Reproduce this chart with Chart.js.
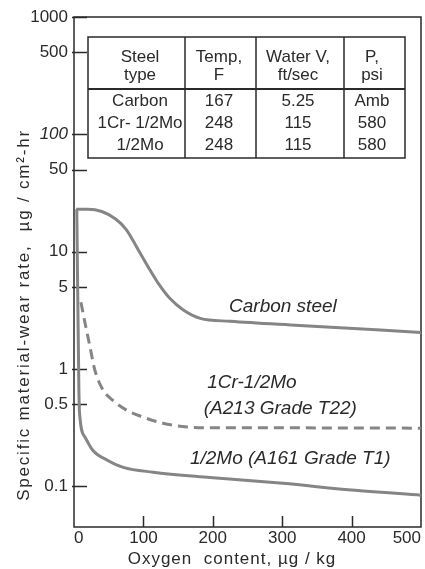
<!DOCTYPE html>
<html lang="en">
<head>
<meta charset="UTF-8">
<title>Specific material-wear rate vs oxygen content</title>
<script src="https://cdn.jsdelivr.net/npm/chart.js"></script>
<style>
  html, body { margin: 0; padding: 0; background: #fff; }
  #chart { display: block; }
</style>
</head>
<body>
<canvas id="chart" width="425" height="569"></canvas>
<script>
// oxygen content, ug/kg  ->  wear rate, ug/cm2-hr
const carbonX = [3, 20, 40, 60, 75, 95, 110, 124, 138, 157, 182, 225, 325, 500];
const carbonY = [23, 23, 22, 19, 15.5, 9.8, 6.9, 5.1, 4.0, 3.2, 2.7, 2.55, 2.35, 2.05];

const crMoX = [10, 16, 23, 30, 42, 56, 76, 99, 128, 163, 196, 300, 500];
const crMoY = [3.7, 2.45, 1.55, 0.98, 0.66, 0.54, 0.445, 0.39, 0.345, 0.32, 0.315, 0.315, 0.313];

const moX = [4, 7, 8, 16, 27, 48, 71, 114, 196, 301, 405, 500];
const moY = [23, 0.7, 0.42, 0.262, 0.203, 0.167, 0.145, 0.132, 0.119, 0.106, 0.0925, 0.084];

const xTicks = [0, 100, 200, 300, 400, 500];
const yTicks = [0.1, 0.5, 1, 5, 10, 50, 100, 500, 1000];

const tableHead = [["Steel", "type"], ["Temp,", "F"], ["Water V,", "ft/sec"], ["P,", "psi"]];
const tableRows = [
    ["Carbon", "167", "5.25", "Amb"],
    ["1Cr- 1/2Mo", "248", "115", "580"],
    ["1/2Mo", "248", "115", "580"]
];

const xTitle = "Oxygen  content, \u00b5g / kg";
const yTitle = "Specific material-wear rate,  \u00b5g / cm\u00b2-hr";

// curve captions, anchored in data space
const captions = [
    { text: "Carbon steel", x: 301, y: 3.4, align: "center" },
    { text: "1Cr-1/2Mo", x: 192, y: 0.77, align: "left" },
    { text: "(A213 Grade T22)", x: 187, y: 0.455, align: "left" },
    { text: "1/2Mo (A161 Grade T1)", x: 167, y: 0.173, align: "left" }
];

const ink = "#2a2a2a";
const curve = "#858585";
const family = "'Liberation Sans', Arial, sans-serif";

const pts = (xs, ys) => xs.map((x, i) => ({ x, y: ys[i] }));

const overlay = {
    id: "overlay",
    beforeDatasetsDraw(chart) {
        const { ctx, chartArea: a, scales: { x, y } } = chart;
        ctx.save();
        ctx.strokeStyle = ink;
        ctx.lineWidth = 1.5;
        ctx.strokeRect(a.left, a.top, a.right - a.left, a.bottom - a.top);
        ctx.beginPath();
        yTicks.forEach(v => {
            const py = Math.round(y.getPixelForValue(v)) + 0.5;
            ctx.moveTo(a.left - 2, py);
            ctx.lineTo(a.left + 13, py);
        });
        xTicks.slice(1, -1).forEach(v => {
            const px = Math.round(x.getPixelForValue(v)) + 0.5;
            ctx.moveTo(px, a.bottom);
            ctx.lineTo(px, a.bottom - 11);
        });
        ctx.stroke();
        ctx.restore();
    },
    afterDraw(chart) {
        const { ctx, scales: { x, y } } = chart;
        ctx.save();
        ctx.fillStyle = ink;
        ctx.strokeStyle = ink;

        // table
        const L = 88, R = 405, T = 37, B = 158, H = 89;
        const cols = [185, 256, 344];
        const centers = [140, 219, 298, 372];
        ctx.lineWidth = 1.5;
        ctx.strokeRect(L, T, R - L, B - T);
        ctx.beginPath();
        cols.forEach(c => { ctx.moveTo(c, T); ctx.lineTo(c, B); });
        ctx.stroke();
        ctx.lineWidth = 2;
        ctx.beginPath();
        ctx.moveTo(L, H);
        ctx.lineTo(R, H);
        ctx.stroke();

        ctx.font = "17px " + family;
        ctx.textAlign = "center";
        ctx.textBaseline = "middle";
        tableHead.forEach((lines, c) => {
            ctx.fillText(lines[0], centers[c], 57);
            ctx.fillText(lines[1], centers[c], 75);
        });
        const rowY = [101, 123, 145];
        tableRows.forEach((row, r) => {
            row.forEach((cell, c) => ctx.fillText(cell, centers[c], rowY[r]));
        });

        // captions
        ctx.font = "italic 19px " + family;
        captions.forEach(c => {
            ctx.textAlign = c.align;
            ctx.fillText(c.text, x.getPixelForValue(c.x), y.getPixelForValue(c.y));
        });

        // axis titles
        ctx.font = "17px " + family;
        ctx.textAlign = "center";
        ctx.letterSpacing = "1px";
        ctx.fillText(xTitle, 232, 559);
        ctx.translate(24, 315);
        ctx.rotate(-Math.PI / 2);
        ctx.letterSpacing = "1.8px";
        ctx.fillText(yTitle, 0, 0);
        ctx.restore();
    }
};

new Chart(document.getElementById("chart"), {
    type: "line",
    data: {
        datasets: [
            {
                label: "Carbon steel",
                data: pts(carbonX, carbonY),
                borderColor: curve,
                borderWidth: 3
            },
            {
                label: "1Cr-1/2Mo (A213 Grade T22)",
                data: pts(crMoX, crMoY),
                borderColor: curve,
                borderWidth: 3,
                borderDash: [10, 6]
            },
            {
                label: "1/2Mo (A161 Grade T1)",
                data: pts(moX, moY),
                borderColor: curve,
                borderWidth: 3
            }
        ]
    },
    options: {
        responsive: false,
        animation: false,
        devicePixelRatio: 1,
        layout: { padding: { top: 17, right: 4, left: 0, bottom: 0 } },
        elements: {
            point: { radius: 0 },
            line: { cubicInterpolationMode: "monotone", fill: false }
        },
        plugins: {
            legend: { display: false },
            tooltip: { enabled: false }
        },
        scales: {
            x: {
                type: "linear",
                min: 0,
                max: 500,
                grid: { display: false, drawTicks: false },
                border: { display: false },
                afterBuildTicks: s => { s.ticks = xTicks.map(v => ({ value: v })); },
                afterFit: s => { s.height = 42; s.paddingLeft = 0; s.paddingRight = 0; },
                ticks: {
                    align: "inner",
                    padding: 1,
                    maxRotation: 0,
                    autoSkip: false,
                    color: ink,
                    font: { family, size: 17 },
                    callback: v => String(v)
                }
            },
            y: {
                type: "logarithmic",
                min: 0.045,
                max: 1000,
                bounds: "data",
                grid: { display: false, drawTicks: false },
                border: { display: false },
                afterBuildTicks: s => { s.ticks = yTicks.map(v => ({ value: v })); },
                afterFit: s => { s.width = 74; },
                ticks: {
                    padding: 6,
                    autoSkip: false,
                    color: ink,
                    font: ctx => ({
                        family,
                        size: 17,
                        style: ctx.tick && ctx.tick.value === 100 ? "italic" : "normal"
                    }),
                    callback: v => String(v)
                }
            }
        }
    },
    plugins: [overlay]
});
</script>
</body>
</html>
